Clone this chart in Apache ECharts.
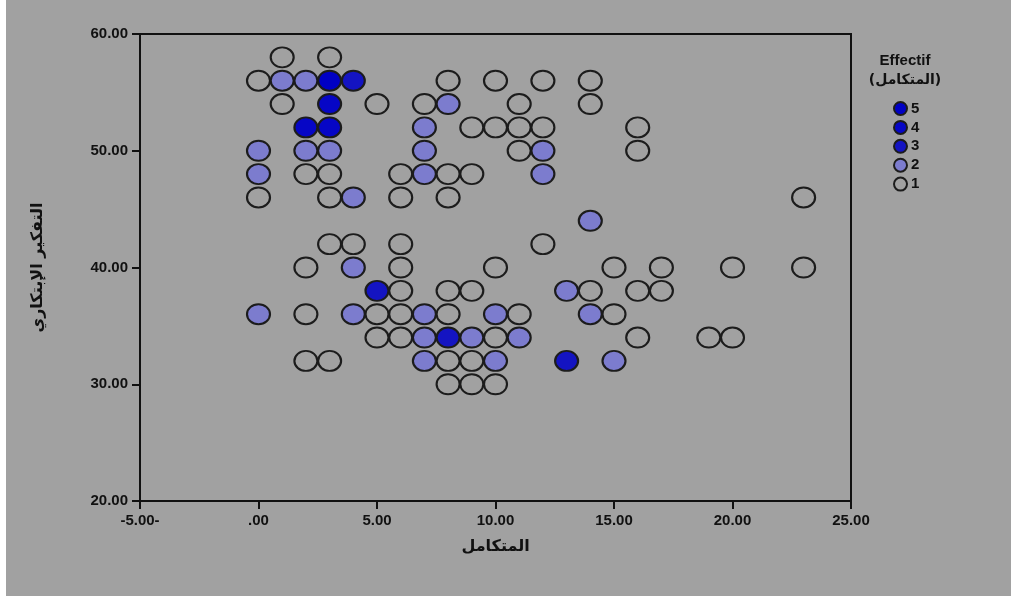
<!DOCTYPE html>
<html>
<head>
<meta charset="utf-8">
<script src="https://cdn.jsdelivr.net/npm/echarts@6/dist/echarts.min.js"></script>
<style>
html,body{margin:0;padding:0;background:#a1a1a1;}
#c{width:1011px;height:596px;}
</style>
</head>
<body>
<div id="c"></div>
<script>
// Tick labels as printed in the reference
const xTickValues = [-5, 0, 5, 10, 15, 20, 25];
const xTickLabels = ['-5.00-', '.00', '5.00', '10.00', '15.00', '20.00', '25.00'];
const yTickValues = [20, 30, 40, 50, 60];
const yTickLabels = ['20.00', '30.00', '40.00', '50.00', '60.00'];

const xName = 'المتكامل';
const yName = 'التفكير الإبتكاري';
const legendTitle = 'Effectif';
const legendSubtitle = '(المتكامل)';

// Points grouped by count (Effectif): [x, y]
const count1 = [
  [1,58],[3,58],
  [0,56],[8,56],[10,56],[12,56],[14,56],
  [1,54],[5,54],[7,54],[11,54],[14,54],
  [9,52],[10,52],[11,52],[12,52],[16,52],
  [11,50],[16,50],
  [2,48],[3,48],[6,48],[8,48],[9,48],
  [0,46],[3,46],[6,46],[8,46],[23,46],
  [3,42],[4,42],[6,42],[12,42],
  [2,40],[6,40],[10,40],[15,40],[17,40],[20,40],[23,40],
  [6,38],[8,38],[9,38],[14,38],[16,38],[17,38],
  [2,36],[5,36],[6,36],[8,36],[11,36],[15,36],
  [5,34],[6,34],[10,34],[16,34],[19,34],[20,34],
  [2,32],[3,32],[8,32],[9,32],
  [8,30],[9,30],[10,30]
];
const count2 = [
  [1,56],[2,56],
  [8,54],
  [7,52],
  [0,50],[2,50],[3,50],[7,50],[12,50],
  [0,48],[7,48],[12,48],
  [4,46],
  [14,44],
  [4,40],
  [13,38],
  [0,36],[4,36],[7,36],[10,36],[14,36],
  [7,34],[9,34],[11,34],
  [7,32],[10,32],[15,32]
];
const count3 = [[4,56],[5,38],[8,34],[13,32]];
const count4 = [[3,54],[2,52],[3,52]];
const count5 = [[3,56]];

const seriesNames = ['5', '4', '3', '2', '1'];
const seriesData = [count5, count4, count3, count2, count1];
const seriesFill = ['#0000c4', '#0606c6', '#1414c2', '#7c7cce', 'rgba(0,0,0,0)'];

const chart = echarts.init(document.getElementById('c'));

const series = seriesNames.map((n, i) => ({
  name: n,
  type: 'scatter',
  data: seriesData[i],
  symbol: 'circle',
  symbolSize: [23, 20],
  z: 10 - i,
  itemStyle: {
    color: seriesFill[i],
    borderColor: '#1c1c1c',
    borderWidth: 2,
    opacity: 1
  },
  emphasis: { disabled: true }
}));

const labelFont = {
  color: '#111',
  fontFamily: 'Liberation Sans, Arial, sans-serif',
  fontWeight: 'bold',
  fontSize: 15
};

chart.setOption({
  backgroundColor: '#a1a1a1',
  animation: false,
  grid: {
    left: 140, right: 160, top: 34, bottom: 95,
    show: true, borderColor: '#111', borderWidth: 2,
    backgroundColor: 'transparent'
  },
  xAxis: {
    type: 'value', min: -5, max: 25, interval: 5,
    splitLine: { show: false },
    axisLine: { show: true, onZero: false, lineStyle: { color: '#111', width: 2 } },
    axisTick: { show: true, length: 8, lineStyle: { color: '#111', width: 2 } },
    axisLabel: Object.assign({
      margin: 12,
      formatter: v => { const k = xTickValues.indexOf(v); return k >= 0 ? xTickLabels[k] : ''; }
    }, labelFont),
    name: xName,
    nameLocation: 'middle',
    nameGap: 38,
    nameTextStyle: { color: '#111', fontFamily: 'DejaVu Sans, sans-serif', fontWeight: 'bold', fontSize: 16 }
  },
  yAxis: {
    type: 'value', min: 20, max: 60, interval: 10,
    splitLine: { show: false },
    axisLine: { show: true, onZero: false, lineStyle: { color: '#111', width: 2 } },
    axisTick: { show: true, length: 8, lineStyle: { color: '#111', width: 2 } },
    axisLabel: Object.assign({
      margin: 12,
      formatter: v => { const k = yTickValues.indexOf(v); return k >= 0 ? yTickLabels[k] : ''; }
    }, labelFont),
    name: yName,
    nameLocation: 'middle',
    nameGap: 94,
    nameTextStyle: { color: '#111', fontFamily: 'DejaVu Sans, sans-serif', fontWeight: 'bold', fontSize: 16 }
  },
  legend: {
    data: seriesNames,
    orient: 'vertical',
    left: 888,
    top: 96,
    itemWidth: 17,
    itemHeight: 13,
    itemGap: 3.9,
    icon: 'circle',
    selectedMode: false,
    textStyle: { color: '#111', fontFamily: 'Liberation Sans, Arial, sans-serif', fontWeight: 'bold', fontSize: 15, lineHeight: 13, padding: [0,0,0,-3] }
  },
  graphic: [
    { type: 'rect', left: 0, top: 0, shape: { width: 6, height: 596 }, style: { fill: '#ffffff' }, silent: true },
    { type: 'text', x: 905, y: 61, style: { text: legendTitle, fill: '#111', font: 'bold 15px "Liberation Sans", Arial, sans-serif', align: 'center', verticalAlign: 'middle' } },
    { type: 'text', x: 905, y: 80, style: { text: legendSubtitle, fill: '#111', font: 'bold 14px "DejaVu Sans", sans-serif', align: 'center', verticalAlign: 'middle' } }
  ],
  series: series
});
</script>
</body>
</html>
